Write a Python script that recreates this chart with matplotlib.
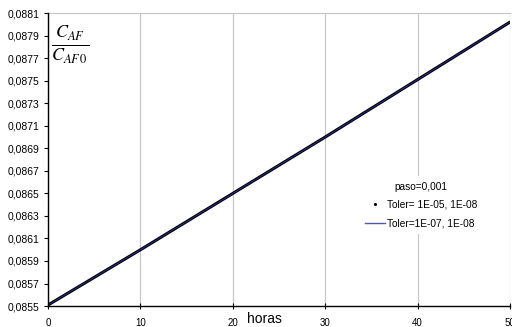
import numpy as np
import matplotlib
matplotlib.use('Agg')
import matplotlib.pyplot as plt
from matplotlib.lines import Line2D

# data
#
horas = [0, 10, 20, 30, 40, 50]
conc_tol5 = [0.08551, 0.08600, 0.08650, 0.08700, 0.08751, 0.08802]
conc_tol7 = [0.08551, 0.08600, 0.08650, 0.08700, 0.08751, 0.08802]
y_ticks = [0.0855, 0.0857, 0.0859, 0.0861, 0.0863, 0.0865, 0.0867,
           0.0869, 0.0871, 0.0873, 0.0875, 0.0877, 0.0879, 0.0881]
x_ticks = [0, 10, 20, 30, 40, 50]

plt.rcParams['font.family'] = ['Liberation Sans', 'DejaVu Sans']
plt.rcParams['mathtext.fontset'] = 'stix'

# plot
#
fig = plt.figure(figsize=(5.12, 3.27), dpi=100)
ax = fig.add_axes([0.094, 0.064, 0.902, 0.896])

ax.plot(horas, conc_tol5, color='black', linewidth=2.2, solid_capstyle='round')
ax.plot(horas, conc_tol7, color='#25257a', linewidth=0.8)

ax.set_xlim(0, 50)
ax.set_ylim(0.0855, 0.0881)
ax.set_xticks(x_ticks)
ax.set_yticks(y_ticks)
ax.set_yticklabels([f'{v:.4f}'.replace('.', ',') for v in y_ticks])
ax.tick_params(axis='x', direction='inout', length=5, labelsize=7, pad=6, width=0.8)
ax.tick_params(axis='y', direction='out', length=3, labelsize=7.5, pad=3, width=0.8)

ax.grid(axis='x', color='#c8c8c8', linewidth=0.9)
ax.axhline(0.0881, color='#c8c8c8', linewidth=0.9, clip_on=False)
ax.spines['top'].set_visible(False)
ax.spines['right'].set_visible(False)
ax.spines['left'].set_linewidth(1.0)
ax.spines['bottom'].set_linewidth(1.0)

ax.text(0.006, 0.965, r'$\frac{C_{AF}}{C_{AF\,0}}$', transform=ax.transAxes,
        fontsize=18.5, va='top', ha='left')
fig.text(0.482, 0.004, 'horas', fontsize=10, ha='left', va='bottom')

handles = [
  Line2D([], [], color='black', marker='.', markersize=2.5, linestyle='none'),
  Line2D([], [], color='#5555aa', linewidth=1.0),
]
leg = ax.legend(handles, ['Toler= 1E-05, 1E-08', 'Toler=1E-07, 1E-08'],
                title='paso=0,001', fontsize=7.3, title_fontsize=7.3,
                loc='upper left', bbox_to_anchor=(0.692, 0.478),
                bbox_transform=fig.transFigure, frameon=True,
                handlelength=1.9, handletextpad=0.2, borderpad=0.6,
                labelspacing=0.8)
leg.get_frame().set_edgecolor('none')
leg.get_frame().set_facecolor('white')
leg.get_frame().set_alpha(1)

# output
#
fig.savefig('out.png', dpi=100)
